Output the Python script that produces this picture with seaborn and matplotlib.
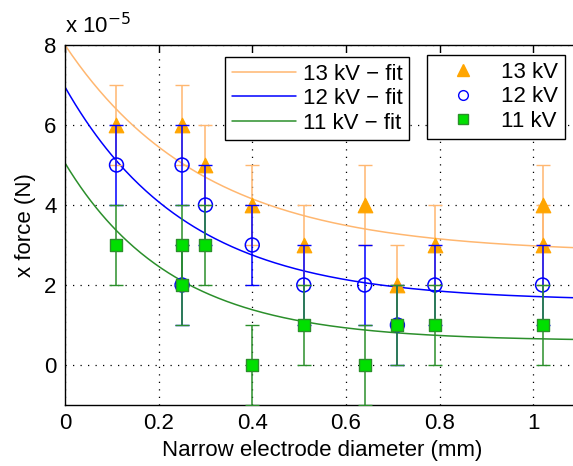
import seaborn as sns
import matplotlib.pyplot as plt
import matplotlib.lines as mlines
import pandas as pd
import numpy as np

# measured x force (units of 1e-5 N) vs narrow electrode diameter (mm)
x13 = [0.11, 0.25, 0.30, 0.40, 0.51, 0.64, 0.71, 0.79, 1.02, 1.02]
y13 = [6, 6, 5, 4, 3, 4, 2, 3, 4, 3]
e13 = [1, 1, 1, 1, 1, 1, 1, 1, 1, 1]

x12 = [0.11, 0.25, 0.25, 0.30, 0.40, 0.51, 0.64, 0.71, 0.79, 1.02]
y12 = [5, 5, 2, 4, 3, 2, 2, 1, 2, 2]
e12 = [1, 1, 1, 1, 1, 1, 1, 1, 1, 1]

x11 = [0.11, 0.25, 0.25, 0.30, 0.40, 0.51, 0.64, 0.71, 0.79, 1.02]
y11 = [3, 3, 2, 3, 0, 1, 0, 1, 1, 1]
e11 = [1, 1, 1, 1, 1, 1, 1, 1, 1, 1]

# exponential fit parameters: y = c + A * exp(-x / t)
fit13 = (2.8, 5.2, 0.297)
fit12 = (1.6, 5.35, 0.26)
fit11 = (0.6, 4.45, 0.23)

fit_labels = ['13 kV \u2212 fit', '12 kV \u2212 fit', '11 kV \u2212 fit']
pt_labels = ['13 kV', '12 kV', '11 kV']

sns.set_style("white")
plt.rcParams['font.family'] = ['Liberation Sans', 'DejaVu Sans']
plt.rcParams['text.color'] = 'black'
plt.rcParams['axes.labelcolor'] = 'black'
fs = 16

fig = plt.figure(figsize=(5.73, 4.66), dpi=100)
ax = fig.add_axes([65 / 573, 61 / 466, 515 / 573, 360 / 466])

c_or_line = '#ffb770'
c_or_mark = '#ffa500'
c_bl = '#0000ff'
c_gr_line = '#2b8f2b'
c_gr_mark = '#00e000'

# fit curves
xs = np.linspace(0, 1.1, 300)
fits = []
for lab, (c, a, t) in zip(fit_labels, [fit13, fit12, fit11]):
    fits.append(pd.DataFrame({'x': xs, 'y': c + a * np.exp(-xs / t), 'fit': lab}))
df_fit = pd.concat(fits)
sns.lineplot(data=df_fit, x='x', y='y', hue='fit', ax=ax, legend=False,
             palette=[c_or_line, c_bl, c_gr_line], linewidth=1.1, zorder=2)

# error bars + markers
ax.errorbar(x13, y13, yerr=e13, fmt='none', ecolor=c_or_line, elinewidth=1.1, capsize=5, zorder=3)
sns.scatterplot(x=x13, y=y13, marker='^', s=110, color=c_or_mark, edgecolor=c_or_mark, ax=ax, zorder=4)
ax.errorbar(x12, y12, yerr=e12, fmt='none', ecolor=c_bl, elinewidth=1.1, capsize=5, zorder=5)
sns.scatterplot(x=x12, y=y12, marker='o', s=100, facecolor='none', edgecolor=c_bl, linewidth=1.1, ax=ax, zorder=6)
ax.errorbar(x11, y11, yerr=e11, fmt='none', ecolor=c_gr_line, elinewidth=1.1, capsize=5, zorder=7)
sns.scatterplot(x=x11, y=y11, marker='s', s=80, color=c_gr_mark, edgecolor=c_gr_line, linewidth=1, ax=ax, zorder=8)

ax.set_xlim(0, 1.1)
ax.set_ylim(-1, 8)
ax.set_xticks([0, 0.2, 0.4, 0.6, 0.8, 1.0])
ax.set_xticklabels(['0', '0.2', '0.4', '0.6', '0.8', '1'])
ax.set_yticks([0, 2, 4, 6, 8])
ax.grid(True, color='black', linestyle=(0, (1, 5)), linewidth=0.9)
ax.tick_params(direction='in', top=True, right=True, length=5, width=1, colors='black', labelsize=fs, pad=6)
for s in ax.spines.values():
    s.set_color('black')
    s.set_linewidth(1)

ax.set_xlabel('Narrow electrode diameter (mm)', fontsize=fs, labelpad=4, color='black')
ax.set_ylabel('x force (N)', fontsize=fs, labelpad=6, color='black')
ax.text(0, 1.02, r'x 10$^{-5}$', transform=ax.transAxes, fontsize=fs, ha='left', va='bottom', color='black')

# legends
fit_handles = [mlines.Line2D([], [], color=c, linewidth=1.1) for c in [c_or_line, c_bl, c_gr_line]]
leg1 = ax.legend(fit_handles, fit_labels,
                 loc='upper left', bbox_to_anchor=(0.311, 0.967), borderaxespad=0,
                 fancybox=False, framealpha=1, edgecolor='black', fontsize=fs,
                 handlelength=2.9, handletextpad=0.3, labelspacing=0.16, borderpad=0.3)
leg1.get_frame().set_linewidth(1)
ax.add_artist(leg1)

pt_handles = [
    mlines.Line2D([], [], linestyle='none', marker='^', markersize=9, color=c_or_mark),
    mlines.Line2D([], [], linestyle='none', marker='o', markersize=7, markerfacecolor='none', markeredgecolor=c_bl),
    mlines.Line2D([], [], linestyle='none', marker='s', markersize=7, markerfacecolor=c_gr_mark, markeredgecolor=c_gr_line),
]
leg2 = ax.legend(pt_handles, pt_labels,
                 loc='upper left', bbox_to_anchor=(0.703, 0.972), borderaxespad=0,
                 fancybox=False, framealpha=1, edgecolor='black', fontsize=fs,
                 handlelength=2.6, handletextpad=0.45, labelspacing=0.16, borderpad=0.3)
leg2.get_frame().set_linewidth(1)

fig.savefig('out.png', dpi=100)
